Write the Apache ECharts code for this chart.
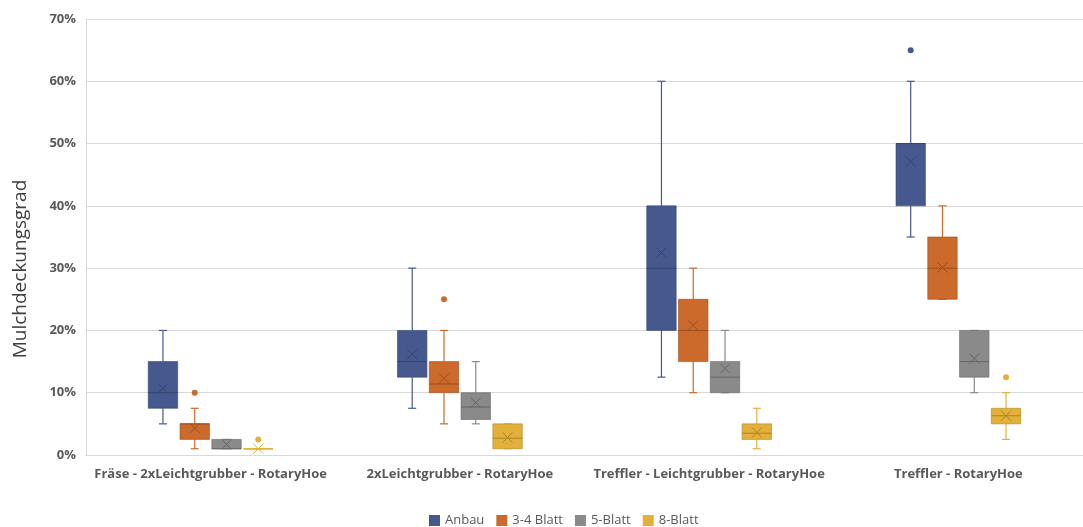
<!DOCTYPE html>
<html>
<head>
<meta charset="utf-8">
<script src="https://cdn.jsdelivr.net/npm/echarts@6/dist/echarts.min.js"></script>
<style>
html,body{margin:0;padding:0;background:#fff;}
#c{width:1083px;height:527px;}
</style>
</head>
<body>
<div id="c"></div>
<script>
// Categories and tick values
var categories = ['Fräse - 2xLeichtgrubber - RotaryHoe', '2xLeichtgrubber - RotaryHoe', 'Treffler - Leichtgrubber - RotaryHoe', 'Treffler - RotaryHoe'];
var seriesNames = ['Anbau', '3-4 Blatt', '5-Blatt', '8-Blatt'];
var yTicks = [0, 10, 20, 30, 40, 50, 60, 70];
var yTitle = 'Mulchdeckungsgrad';

// Each row: [min, q1, median, q3, max, mean] in % per category
var anbau   = [[5, 7.5, 10, 15, 20, 10.7], [7.5, 12.5, 15, 20, 30, 16.2], [12.5, 20, 30, 40, 60, 32.5], [35, 40, 50, 50, 60, 47.1]];
var blatt34 = [[1, 2.5, 5, 5, 7.5, 4.3], [5, 10, 11.4, 15, 20, 12.3], [10, 15, 20, 25, 30, 20.8], [25, 25, 30, 35, 40, 30.1]];
var blatt5  = [[1, 1, 1, 2.5, 2.5, 1.7], [5, 5.7, 7.7, 10, 15, 8.4], [10, 10, 12.5, 15, 20, 13.9], [10, 12.5, 15, 20, 20, 15.5]];
var blatt8  = [[1, 1, 1, 1, 1, 1], [1, 1, 2.7, 5, 5, 2.8], [1, 2.5, 3.5, 5, 7.5, 3.6], [2.5, 5, 6.3, 7.5, 10, 6.3]];

// Outliers per category (null = none)
var outAnbau   = [null, null, null, 65];
var outBlatt34 = [10, 25, null, null];
var outBlatt5  = [null, null, null, null];
var outBlatt8  = [2.5, null, null, 12.5];

var colors = ['#46598F', '#CC6A2C', '#8A8A8A', '#E3B13A'];
var darks  = ['#34436E', '#9A4E1F', '#666666', '#AD8424'];

var allStats = [anbau, blatt34, blatt5, blatt8];
var allOut = [outAnbau, outBlatt34, outBlatt5, outBlatt8];

function makeRender(si) {
  return function (params, api) {
    var ci = api.value(0);
    var center = api.coord([ci, 0])[0];
    var band = api.size([1, 0])[0];
    var spacing = band * 0.1275;
    var bw = band * 0.118;
    var cx = center + (si - 1.5) * spacing;
    var y = function (v) { return api.coord([ci, v])[1]; };
    var yMin = y(api.value(1)), yQ1 = y(api.value(2)), yMed = y(api.value(3)),
        yQ3 = y(api.value(4)), yMax = y(api.value(5)), yMean = y(api.value(6));
    var cap = 4;
    var col = colors[si], dk = darks[si];
    var children = [];
    children.push({type: 'line', shape: {x1: cx, y1: yQ3, x2: cx, y2: yMax}, style: {stroke: col, lineWidth: 1.2}});
    children.push({type: 'line', shape: {x1: cx, y1: yQ1, x2: cx, y2: yMin}, style: {stroke: col, lineWidth: 1.2}});
    children.push({type: 'line', shape: {x1: cx - cap, y1: yMax, x2: cx + cap, y2: yMax}, style: {stroke: col, lineWidth: 1.2}});
    children.push({type: 'line', shape: {x1: cx - cap, y1: yMin, x2: cx + cap, y2: yMin}, style: {stroke: col, lineWidth: 1.2}});
    var h = Math.max(yQ1 - yQ3, 0);
    children.push({type: 'rect', shape: {x: cx - bw / 2, y: yQ3, width: bw, height: h}, style: {fill: col, stroke: h > 0 ? dk : col, lineWidth: h > 0 ? 0.6 : 1.4}});
    children.push({type: 'line', shape: {x1: cx - bw / 2, y1: yMed, x2: cx + bw / 2, y2: yMed}, style: {stroke: h > 0 ? dk : col, lineWidth: h > 0 ? 1 : 1.4}});
    var m = 5;
    children.push({type: 'line', shape: {x1: cx - m, y1: yMean - m, x2: cx + m, y2: yMean + m}, style: {stroke: h > 0 ? dk : col, lineWidth: 1}});
    children.push({type: 'line', shape: {x1: cx - m, y1: yMean + m, x2: cx + m, y2: yMean - m}, style: {stroke: h > 0 ? dk : col, lineWidth: 1}});
    var o = allOut[si][params.dataIndex];
    if (o !== null && o !== undefined) {
      children.push({type: 'circle', shape: {cx: cx, cy: y(o), r: 3}, style: {fill: col}});
    }
    return {type: 'group', children: children};
  };
}

var series = seriesNames.map(function (name, si) {
  return {
    name: name,
    type: 'custom',
    renderItem: makeRender(si),
    itemStyle: {color: colors[si]},
    encode: {x: 0, y: [1, 2, 3, 4, 5]},
    data: allStats[si].map(function (r, ci) { return [ci].concat(r); }),
    clip: false,
    z: 3
  };
});

var chart = echarts.init(document.getElementById('c'), null, {renderer: 'canvas'});
chart.setOption({
  animation: false,
  backgroundColor: '#fff',
  textStyle: {fontFamily: 'Open Sans'},
  grid: {left: 86, right: -6, top: 19, bottom: 72, containLabel: false},
  graphic: [{
    type: 'text',
    x: 21, y: 269,
    rotation: Math.PI / 2,
    style: {text: yTitle, font: '19px "Open Sans"', fill: '#404040', textAlign: 'center', textVerticalAlign: 'middle'}
  }],
  legend: {
    top: 509,
    left: 424,
    icon: 'rect',
    itemWidth: 11,
    itemHeight: 11,
    itemGap: 12,
    textStyle: {fontSize: 13, color: '#595959', fontFamily: 'Open Sans'},
    data: seriesNames
  },
  xAxis: {
    type: 'category',
    data: categories,
    axisLine: {show: true, lineStyle: {color: '#D9D9D9', width: 1}},
    axisTick: {show: false},
    axisLabel: {fontSize: 13, fontWeight: 'bold', color: '#595959', margin: 13, interval: 0, fontFamily: 'Open Sans'}
  },
  yAxis: {
    type: 'value',
    min: yTicks[0],
    max: yTicks[yTicks.length - 1],
    interval: 10,
    axisLine: {show: true, lineStyle: {color: '#D9D9D9'}},
    axisTick: {show: false},
    axisLabel: {formatter: '{value}%', fontSize: 13, fontWeight: 'bold', color: '#595959', margin: 10, fontFamily: 'Open Sans'},
    splitLine: {show: true, lineStyle: {color: '#D9D9D9', width: 1}}
  },
  series: series
});
</script>
</body>
</html>
